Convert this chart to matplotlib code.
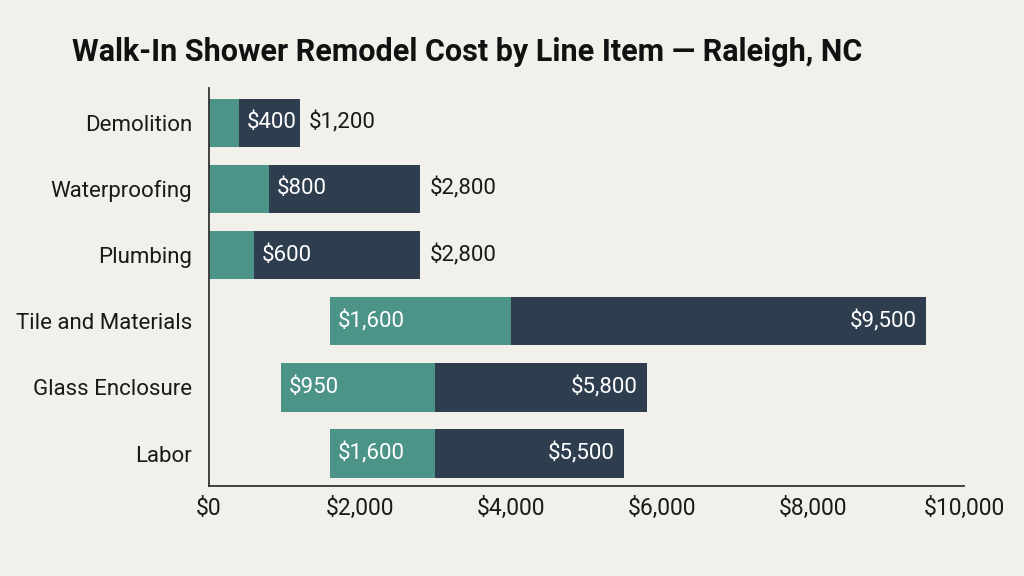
import matplotlib.pyplot as plt

# Data: cost range per line item
items = ["Demolition", "Waterproofing", "Plumbing",
         "Tile and Materials", "Glass Enclosure", "Labor"]
bar_start = [0, 0, 0, 1600, 950, 1600]
bar_split = [400, 800, 600, 4000, 3000, 3000]
low_cost = [400, 800, 600, 1600, 950, 1600]
high_cost = [1200, 2800, 2800, 9500, 5800, 5500]
x_ticks = [0, 2000, 4000, 6000, 8000, 10000]

bg = "#f1f0eb"
teal = "#4b9487"
navy = "#2f3e4f"
plt.rcParams["font.family"] = ["Roboto", "DejaVu Sans"]

fig = plt.figure(figsize=(10.24, 5.76), dpi=100, facecolor=bg)
ax = fig.add_axes([0.2041, 0.15625, 0.7373, 0.6905])
ax.set_facecolor(bg)

ypos = list(range(len(items)))
h = 0.73
for y, s, m, lo, hi in zip(ypos, bar_start, bar_split, low_cost, high_cost):
    ax.barh(y, m - s, left=s, height=h, color=teal)
    ax.barh(y, hi - m, left=m, height=h, color=navy)

    # low label: at the start of the range
    lx = s if s > 0 else m
    ax.annotate(f"${lo:,}", (lx, y), xytext=(5.5, 0), textcoords="offset points",
                ha="left", va="center", color="white", fontsize=16)

    # high label: inside for wide bars, outside otherwise
    if hi > 3000:
        ax.annotate(f"${hi:,}", (hi, y), xytext=(-7, 0), textcoords="offset points",
                    ha="right", va="center", color="white", fontsize=16)
    else:
        ax.annotate(f"${hi:,}", (hi, y), xytext=(6.5, 0), textcoords="offset points",
                    ha="left", va="center", color="#1a1a1a", fontsize=16)

ax.set_xlim(0, 10000)
ax.set_ylim(5.49, -0.52)
ax.set_yticks(ypos)
ax.set_yticklabels(items)
ax.set_xticks(x_ticks)
ax.set_xticklabels([f"${v:,}" for v in x_ticks])
ax.tick_params(axis="y", length=0, pad=12, labelsize=16, labelcolor="#1a1a1a")
ax.tick_params(axis="x", length=0, pad=8, labelsize=16.5, labelcolor="#1a1a1a")

for side in ["top", "right"]:
    ax.spines[side].set_visible(False)
for side in ["left", "bottom"]:
    ax.spines[side].set_color("#333333")
    ax.spines[side].set_linewidth(1.3)

fig.text(0.0703, 0.91, "Walk-In Shower Remodel Cost by Line Item — Raleigh, NC",
         fontsize=22, fontweight="bold", color="#111111", ha="left", va="center")

fig.savefig("out.png", dpi=100, facecolor=bg)
